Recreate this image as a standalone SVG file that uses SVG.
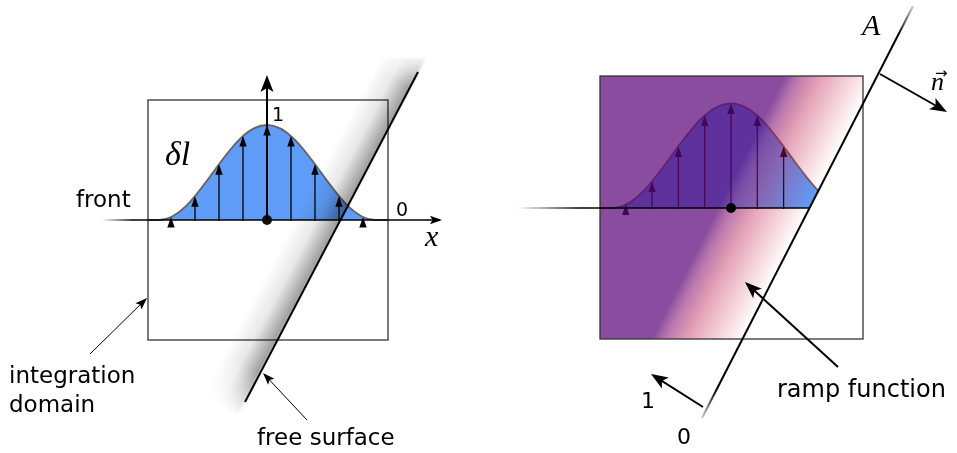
<svg xmlns="http://www.w3.org/2000/svg" width="957" height="453" viewBox="0 0 957 453">
<style>
.sans{font-family:"DejaVu Sans","Liberation Sans",sans-serif;fill:#000}
.math{font-family:"Liberation Serif","DejaVu Serif",serif;font-style:italic;fill:#000}
.box{fill:none;stroke:#333;stroke-width:1.3}
.bellfill{fill:#5f9cf8;stroke:none}
.bellline{fill:none;stroke:#666;stroke-width:2}
.va{stroke:#000;stroke-width:1.3;fill:none;marker-end:url(#as)}
.thick{stroke:#000;stroke-width:2;fill:none;marker-end:url(#al)}
.thin{stroke:#000;stroke-width:1;fill:none;marker-end:url(#am)}
</style>
<defs>
<marker id="as" markerUnits="userSpaceOnUse" viewBox="-10 -5 13 10" markerWidth="13" markerHeight="10" refX="0" refY="0" orient="auto"><path d="M2,0 L-8.5,-3.7 L-8.5,3.7 Z" fill="#000"/></marker>
<marker id="am" markerUnits="userSpaceOnUse" viewBox="-12 -6 15 12" markerWidth="15" markerHeight="12" refX="0" refY="0" orient="auto"><path d="M2,0 L-10,-4.3 L-7.5,0 L-10,4.3 Z" fill="#000"/></marker>
<marker id="al" markerUnits="userSpaceOnUse" viewBox="-16 -8 20 16" markerWidth="20" markerHeight="16" refX="0" refY="0" orient="auto"><path d="M3,0 L-14,-6.5 L-10,0 L-14,6.5 Z" fill="#000"/></marker>
<linearGradient id="frontG" gradientUnits="userSpaceOnUse" x1="102" y1="0" x2="132" y2="0"><stop offset="0" stop-color="#fff"/><stop offset="1" stop-color="#000"/></linearGradient>
<linearGradient id="baseR" gradientUnits="userSpaceOnUse" x1="517" y1="0" x2="580" y2="0"><stop offset="0" stop-color="#fff"/><stop offset="1" stop-color="#000"/></linearGradient>
<linearGradient id="bandG" gradientUnits="userSpaceOnUse" x1="304" y1="201" x2="340" y2="220"><stop offset="0" stop-color="#fff"/><stop offset="0.5" stop-color="#e8e8e8"/><stop offset="1" stop-color="#9a9a9a"/></linearGradient>
<linearGradient id="bandM" gradientUnits="userSpaceOnUse" x1="426" y1="56" x2="236" y2="416"><stop offset="0" stop-color="#000"/><stop offset="0.09" stop-color="#fff"/><stop offset="0.88" stop-color="#fff"/><stop offset="1" stop-color="#000"/></linearGradient>
<mask id="bandMask" maskUnits="userSpaceOnUse" x="0" y="0" width="957" height="453"><rect x="0" y="0" width="957" height="453" fill="url(#bandM)"/></mask>
<filter id="soft" x="-20%" y="-5%" width="140%" height="110%"><feGaussianBlur stdDeviation="1.2"/></filter>
<linearGradient id="ovG" gradientUnits="userSpaceOnUse" x1="810" y1="208" x2="736.9" y2="170.9"><stop offset="0" stop-color="#c81e46" stop-opacity="0"/><stop offset="0.3" stop-color="#c81e46" stop-opacity="0.2"/><stop offset="0.6" stop-color="#bb164d" stop-opacity="0.4"/><stop offset="0.85" stop-color="#891e75" stop-opacity="0.6"/><stop offset="1" stop-color="#5d087a" stop-opacity="0.724"/></linearGradient>
<linearGradient id="lineA" gradientUnits="userSpaceOnUse" x1="913" y1="6" x2="702" y2="418"><stop offset="0" stop-color="#ccc"/><stop offset="0.07" stop-color="#000"/><stop offset="0.93" stop-color="#000"/><stop offset="1" stop-color="#ccc"/></linearGradient>
<clipPath id="leftA"><polygon points="600,76 863,76 863,103.7 743.5,339 600,339"/></clipPath>
</defs>
<rect x="0" y="0" width="957" height="453" fill="#fff"/>

<g id="left-panel">
<rect class="box" x="148" y="100" width="240" height="240"/>
<path class="bellfill" d="M148,220 L159,220 C168,220 177,214.9 186,206.1 C195,197.3 204,184.9 213,172.5 C222,160.1 231,147.7 240,138.9 C249,130.1 258,125 267,125 C276,125 285,130.1 294,138.9 C303,147.7 312,160.1 321,172.5 C330,184.9 339,197.3 348,206.1 C357,214.9 366,220 375,220 L388,220"/>
<path class="bellline" d="M148,220 L159,220 C168,220 177,214.9 186,206.1 C195,197.3 204,184.9 213,172.5 C222,160.1 231,147.7 240,138.9 C249,130.1 258,125 267,125 C276,125 285,130.1 294,138.9 C303,147.7 312,160.1 321,172.5 C330,184.9 339,197.3 348,206.1 C357,214.9 366,220 375,220 L388,220"/>
<path class="va" d="M171,221 V219.1"/>
<path class="va" d="M195,221 V198.3"/>
<path class="va" d="M219,221 V166.2"/>
<path class="va" d="M243,221 V138.1"/>
<path class="va" d="M267,221 V127"/>
<path class="va" d="M291,221 V138.1"/>
<path class="va" d="M315,221 V166.2"/>
<path class="va" d="M339,221 V198.3"/>
<path class="va" d="M363,221 V219.1"/>
<path d="M102,220 H440" stroke="url(#frontG)" stroke-width="1.5" fill="none" marker-end="url(#am)"/>
<circle cx="267" cy="220" r="5" fill="#111"/>
<g mask="url(#bandMask)" style="mix-blend-mode:multiply">
<polygon points="426,58 382,58 194,414 238,414" fill="url(#bandG)" filter="url(#soft)"/>
</g>
<path d="M418,72 L245,402" stroke="#000" stroke-width="2" fill="none"/>
<text class="sans" x="272" y="121" font-size="19">1</text>
<text class="sans" x="396" y="216" font-size="19">0</text>
<text class="sans" x="76" y="207" font-size="23">front</text>
<text class="math" x="165" y="165" font-size="34">δl</text>
<text class="math" x="425" y="246" font-size="30">x</text>
<text class="sans" x="9" y="383" font-size="23">integration</text>
<text class="sans" x="9" y="412" font-size="23">domain</text>
<text class="sans" x="257" y="445" font-size="23">free surface</text>
</g>

<g id="right-panel">
<g clip-path="url(#leftA)">
<path class="bellfill" d="M600,208 L612.2,208 C622.1,208 632,202.4 641.9,192.7 C651.8,183 661.7,169.4 671.6,155.75 C681.5,142.1 691.4,128.5 701.3,118.8 C711.2,109.1 721.1,103.5 731,103.5 C740.9,103.5 750.8,109.1 760.7,118.8 C770.6,128.5 780.5,142.1 790.4,155.75 C800.3,169.4 810.2,183 820.1,192.7 C830,202.4 839.9,208 849.8,208 L863,208"/>
<path class="bellline" d="M600,208 L612.2,208 C622.1,208 632,202.4 641.9,192.7 C651.8,183 661.7,169.4 671.6,155.75 C681.5,142.1 691.4,128.5 701.3,118.8 C711.2,109.1 721.1,103.5 731,103.5 C740.9,103.5 750.8,109.1 760.7,118.8 C770.6,128.5 780.5,142.1 790.4,155.75 C800.3,169.4 810.2,183 820.1,192.7 C830,202.4 839.9,208 849.8,208 L863,208"/>
<path class="va" d="M625.8,209 V206.6"/>
<path class="va" d="M652.1,209 V183.6"/>
<path class="va" d="M678.4,209 V148.4"/>
<path class="va" d="M704.7,209 V117.5"/>
<path class="va" d="M731,209 V105.5"/>
<path class="va" d="M757.3,209 V117.5"/>
<path class="va" d="M783.6,209 V148.4"/>
<polygon points="600,76 863,76 863,103.7 743.5,339 600,339" fill="url(#ovG)"/>
</g>
<rect class="box" x="600" y="76" width="263" height="263"/>
<path d="M517,208 H810" stroke="url(#baseR)" stroke-width="1.5" fill="none"/>
<circle cx="731" cy="208" r="5" fill="#000"/>
<path d="M913,6 L702,418" stroke="url(#lineA)" stroke-width="2" fill="none"/>
<text class="math" x="862" y="35" font-size="30">A</text>
<text class="math" x="931" y="90" font-size="26">n<tspan x="935" y="78" font-size="15" font-style="normal" font-family="DejaVu Sans, sans-serif">→</tspan></text>
<text class="sans" x="641" y="408" font-size="22">1</text>
<text class="sans" x="677" y="444" font-size="22">0</text>
<text class="sans" x="777" y="397" font-size="24">ramp function</text>
</g>

<g id="connectors">
<path class="thick" d="M267,220 V78"/>
<path class="thin" d="M90,354 L145.6,299.4"/>
<path class="thin" d="M307,420 L264.4,374.5"/>
<path class="thick" d="M880,74 L944.4,110.5"/>
<path class="thick" d="M703,407 L653.5,375.6"/>
<path class="thick" d="M838,367 L747.2,284"/>
</g>
</svg>
